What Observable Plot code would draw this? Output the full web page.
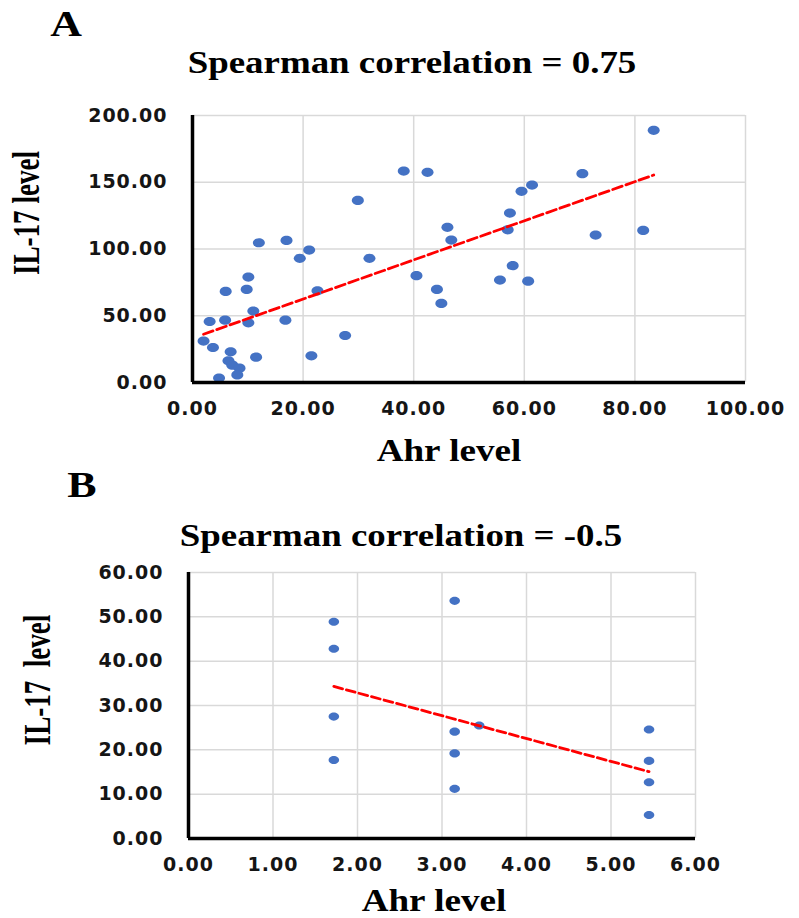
<!DOCTYPE html>
<html>
<head>
<meta charset="utf-8">
<script src="https://cdn.jsdelivr.net/npm/d3@7"></script>
<script src="https://cdn.jsdelivr.net/npm/@observablehq/plot@0.6"></script>
<style>
  html, body { margin: 0; padding: 0; background: #fff; }
  #wrap { position: relative; width: 799px; height: 918px; background: #fff; overflow: hidden; }
  .t { position: absolute; font-family: "Liberation Serif", "Times New Roman", serif; font-weight: bold; color: #000; white-space: nowrap; line-height: 1; }
  .plot { position: absolute; left: 0; }
</style>
</head>
<body>
<div id="wrap">
  <div class="t" id="labA" style="left:66px;top:24px;font-size:36px;transform:translate(-50%,-50%) scaleX(1.22)">A</div>
  <div class="t" id="titleA" style="left:412px;top:62px;font-size:31px;transform:translate(-50%,-50%) scaleX(1.19)">Spearman correlation = 0.75</div>
  <div class="t" id="xlabA" style="left:449px;top:450px;font-size:32px;transform:translate(-50%,-50%) scaleX(1.16)">Ahr level</div>
  <div class="t" id="ylabA" style="left:27px;top:213px;font-size:33px;transform:translate(-50%,-50%) rotate(-90deg) scale(0.82,1.12)">IL-17 level</div>
  <div class="t" id="labB" style="left:82px;top:485px;font-size:36px;transform:translate(-50%,-50%) scaleX(1.22)">B</div>
  <div class="t" id="titleB" style="left:401px;top:535px;font-size:31px;transform:translate(-50%,-50%) scaleX(1.19)">Spearman correlation = -0.5</div>
  <div class="t" id="xlabB" style="left:434px;top:900px;font-size:32px;transform:translate(-50%,-50%) scaleX(1.16)">Ahr level</div>
  <div class="t" id="ylabB" style="left:38px;top:680px;font-size:33px;transform:translate(-50%,-50%) rotate(-90deg) scale(0.82,1.12)">IL-17&nbsp; level</div>
  <div class="plot" id="plotA" style="top:95px"></div>
  <div class="plot" id="plotB" style="top:550px"></div>
</div>
<script>
// Panel A data (Ahr level vs IL-17 level)
const ahrA = [38.2, 42.5, 29.9, 46.1, 46.8, 12.0, 17.0, 21.1, 19.4, 32.0, 10.1, 6.0, 9.8, 22.6, 40.5, 44.2, 45.0, 55.6, 11.0, 3.1, 5.9, 10.1, 16.8, 27.6, 2.0, 3.7, 6.9, 6.5, 7.2, 8.5, 8.1, 4.8, 11.5, 21.5, 83.4, 70.5, 61.4, 59.5, 57.4, 57.0, 72.9, 81.5, 57.9, 60.7];
const il17A = [158.4, 157.4, 136.4, 116.2, 106.7, 104.7, 106.4, 99.2, 93.0, 93.0, 79.0, 68.2, 69.7, 68.7, 80.0, 69.7, 59.2, 76.7, 53.5, 45.7, 46.7, 44.7, 46.7, 35.2, 31.0, 26.2, 23.0, 16.3, 13.0, 10.7, 5.7, 3.3, 19.0, 20.0, 188.9, 156.4, 147.9, 143.2, 126.9, 114.4, 110.4, 113.9, 87.5, 75.9];
const xTicksA = [0, 20, 40, 60, 80, 100];
const yTicksA = [0, 50, 100, 150, 200];

// Panel B data
const ahrB = [1.72, 1.72, 1.72, 1.72, 3.15, 3.15, 3.15, 3.15, 3.44, 5.45, 5.45, 5.45, 5.45];
const il17B = [48.9, 42.8, 27.5, 17.7, 53.6, 24.1, 19.2, 11.2, 25.5, 24.6, 17.5, 12.7, 5.3];
const xTicksB = [0, 1, 2, 3, 4, 5, 6];
const yTicksB = [0, 10, 20, 30, 40, 50, 60];

const dataA = ahrA.map((x, i) => ({ahr: x, il17: il17A[i]}));
const dataB = ahrB.map((x, i) => ({ahr: x, il17: il17B[i]}));

const fmt = d3.format(".2f");
const gridColor = "#d9d9d9";
const dotColor = "#4472C4";

// slightly wide elliptical marker, like the original spreadsheet markers
function ellipseSymbol(sx, sy) {
  return {
    draw(ctx, size) {
      const r = Math.sqrt(size / Math.PI);
      const rx = r * sx, ry = r * sy, k = 0.5523;
      ctx.moveTo(rx, 0);
      ctx.bezierCurveTo(rx, ry * k, rx * k, ry, 0, ry);
      ctx.bezierCurveTo(-rx * k, ry, -rx, ry * k, -rx, 0);
      ctx.bezierCurveTo(-rx, -ry * k, -rx * k, -ry, 0, -ry);
      ctx.bezierCurveTo(rx * k, -ry, rx, -ry * k, rx, 0);
      ctx.closePath();
    }
  };
}

function panel(data, xTicks, yTicks, m, dotR, dash) {
  const xMax = xTicks[xTicks.length - 1];
  const yMax = yTicks[yTicks.length - 1];
  return Plot.plot({
    width: 799,
    height: 330,
    marginLeft: m.left,
    marginRight: m.right,
    marginTop: m.top,
    marginBottom: m.bottom,
    style: {fontFamily: "'DejaVu Sans', sans-serif", fontWeight: "bold", fontSize: "19px", letterSpacing: "1px", color: "#151515", background: "transparent", overflow: "visible"},
    x: {domain: [0, xMax]},
    y: {domain: [0, yMax]},
    marks: [
      Plot.gridX(xTicks.slice(1), {stroke: gridColor, strokeOpacity: 1, strokeWidth: 1.5}),
      Plot.gridY(yTicks.slice(1), {stroke: gridColor, strokeOpacity: 1, strokeWidth: 1.5}),
      Plot.axisX(xTicks, {tickSize: 0, tickPadding: 19, tickFormat: fmt, label: null}),
      Plot.axisY(yTicks, {tickSize: 0, tickPadding: 25, tickFormat: fmt, label: null}),
      Plot.dot(data, {x: "ahr", y: "il17", r: dotR, symbol: ellipseSymbol(1.2, 0.92), fill: dotColor, stroke: "none"}),
      Plot.linearRegressionY(data, {x: "ahr", y: "il17", ci: 0, stroke: "#ff0000", strokeWidth: 2.8, strokeDasharray: dash}),
      Plot.ruleX([0], {stroke: "#000", strokeWidth: 3.5}),
      Plot.ruleY([0], {stroke: "#000", strokeWidth: 3.5})
    ]
  });
}

document.getElementById("plotA").append(panel(dataA, xTicksA, yTicksA, {left: 192, right: 54, top: 20, bottom: 43}, 5, "10,4"));
document.getElementById("plotB").append(panel(dataB, xTicksB, yTicksB, {left: 188, right: 104, top: 22, bottom: 42}, 4.4, "9,4"));
</script>
</body>
</html>
